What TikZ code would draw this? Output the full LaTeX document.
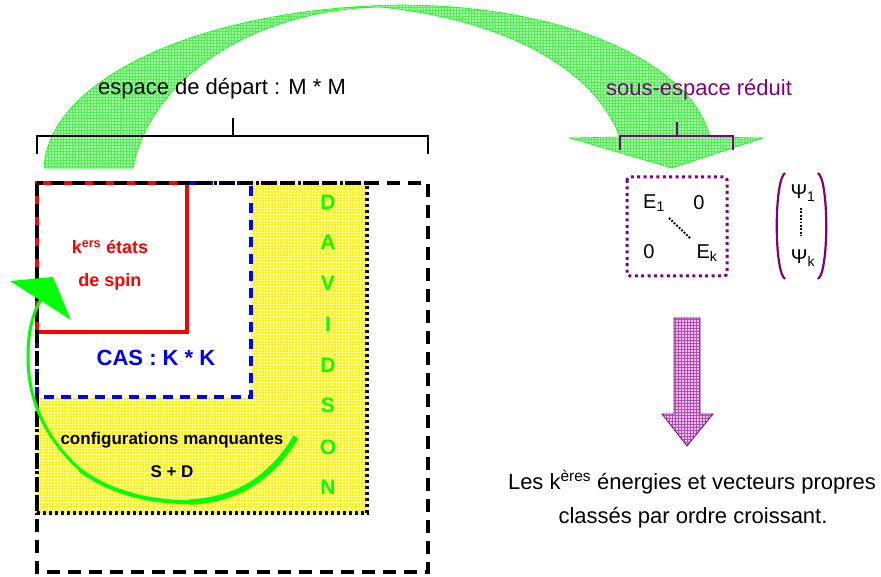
\documentclass[tikz,border=0pt]{standalone}
\usepackage{fontspec}
\setmainfont{Liberation Sans}
\usetikzlibrary{patterns}
\definecolor{mypurple}{RGB}{128,0,128}
\definecolor{lgreen}{RGB}{170,255,170}
\definecolor{ggrid}{RGB}{80,240,80}
\definecolor{lpurple}{RGB}{240,190,240}
\definecolor{pgrid}{RGB}{175,80,175}
\definecolor{ygrid}{RGB}{255,255,150}
\tikzset{
  big/.style={font=\fontsize{22}{26}\selectfont, inner sep=0pt},
  boldtxt/.style={font=\bfseries\fontsize{#1}{#1}\selectfont, inner sep=0pt},
  davletter/.style={font=\bfseries\fontsize{21}{22}\selectfont, text=green, inner sep=0pt},
  mat/.style={font=\fontsize{20}{22}\selectfont, inner sep=0pt},
  bracketline/.style={line width=1.5pt},
}
\begin{document}
\begin{tikzpicture}[x=1pt,y=-1pt]
\useasboundingbox (0,0) rectangle (881,577);
% big green curved arrow
\path[preaction={fill=lgreen}, pattern=grid, pattern color=ggrid, draw=green, line width=0.6pt]
  (44,168) .. controls (48,80) and (200,8) .. (400,5)
  .. controls (560,5) and (690,60) .. (710,137) -- (763,138) -- (672,168) -- (570,138) -- (620,137)
  .. controls (590,60) and (490,18) .. (380,7)
  .. controls (250,10) and (150,80) .. (133,168) -- cycle;
% labels and brackets
\node[big] (esp) at (222,89) {espace de départ : M * M};
\node[big, text=mypurple] (sous) at (699,90) {sous-espace réduit};
\draw[bracketline] (37,154) -- (37,136) -- (428,136) -- (428,154);
\draw[bracketline] (233,136) -- (233,118);
\draw[bracketline, mypurple] (620,150) -- (620,136) -- (733,136) -- (733,150);
\draw[bracketline, mypurple] (677,136) -- (677,122);
% yellow region
\path[preaction={fill=yellow}, pattern=grid, pattern color=ygrid] (37,183) rectangle (367,513);
\fill[white] (37,183) rectangle (251,397);
% borders
\draw[black, line width=3.4pt, dash pattern=on 3pt off 3pt] (37,183) rectangle (367,513);
\draw[blue, line width=3.2pt, dash pattern=on 10pt off 7pt] (37,183) rectangle (251,397);
\draw[red, line width=3.2pt] (37,183) rectangle (187,332);
\draw[black, line width=3.5pt, dash pattern=on 13pt off 8pt] (37,183) rectangle (428,572);
% texts in boxes
\node[boldtxt=18, text=red] (kers) at (110,247) {k\textsuperscript{ers} états};
\node[boldtxt=18, text=red] (spin) at (110,282) {de spin};
\node[boldtxt=22, text=blue] (cas) at (156,358) {CAS : K * K};
\node[boldtxt=17] (conf) at (172,440) {configurations manquantes};
\node[boldtxt=17] (sd) at (172,472) {S + D};
\node[davletter] (d1) at (328,202) {D};
\node[davletter] (d2) at (328,242) {A};
\node[davletter] (d3) at (328,283) {V};
\node[davletter] (d4) at (328,324) {I};
\node[davletter] (d5) at (328,365) {D};
\node[davletter] (d6) at (328,405) {S};
\node[davletter] (d7) at (328,447) {O};
\node[davletter] (d8) at (328,487) {N};
% green curved arrow
\draw[green, line width=5.5pt] (296,437) .. controls (270,480) and (235,500) .. (190,502);
\draw[green, line width=4pt] (200,502) .. controls (170,503) and (120,500) .. (80,470);
\draw[green, line width=3pt] (85,474) .. controls (45,440) and (28,400) .. (28,357) .. controls (28,330) and (33,312) .. (42,298);
\fill[green] (10,281) -- (53,277) -- (71,320) -- cycle;
% right part: matrix
\draw[mypurple, line width=3pt, dash pattern=on 3pt off 3.4pt, rounded corners=3pt] (627,177) rectangle (727,276);
\node[mat] (e1) at (654,203) {E\textsubscript{1}};
\node[mat] (z1) at (699,203) {0};
\node[mat] (z2) at (649,252) {0};
\node[mat] (ek) at (707,253) {E\textsubscript{k}};
\draw[line width=2pt, dash pattern=on 1.8pt off 1.6pt] (669,218) -- (691,239);
% vector
\draw[mypurple, line width=2.2pt] (785,173) .. controls (774,180) and (774,272) .. (785,279);
\draw[mypurple, line width=2.2pt] (818,173) .. controls (829,180) and (829,272) .. (818,279);
\node[mat] (p1) at (803,193) {Ψ\textsubscript{1}};
\node[mat] (pk) at (803,258) {Ψ\textsubscript{k}};
\draw[line width=2pt, dash pattern=on 1.8pt off 1.6pt] (801,208) -- (801,236);
% purple down arrow
\path[preaction={fill=lpurple}, pattern=grid, pattern color=pgrid, draw=mypurple, line width=0.8pt]
  (674,318) -- (700,318) -- (700,414) -- (713,414) -- (687,446) -- (662,414) -- (674,414) -- cycle;
\node[big] (les) at (692,482) {Les k\textsuperscript{ères} énergies et vecteurs propres};
\node[big] (cls) at (693,518) {classés par ordre croissant.};
\end{tikzpicture}
\end{document}
